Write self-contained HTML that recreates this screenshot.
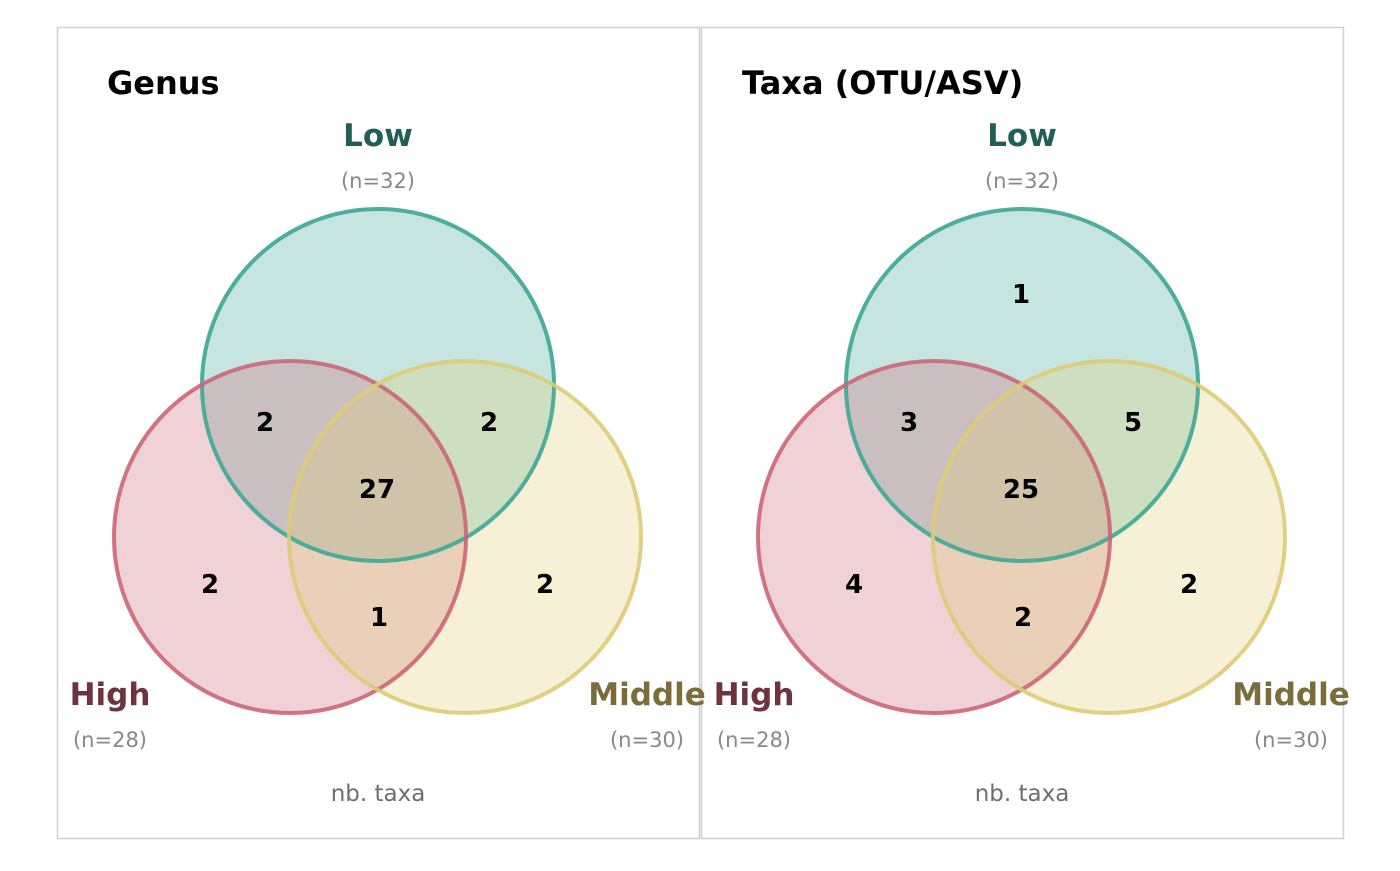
<!DOCTYPE html>
<html><head><meta charset="utf-8"><style>
body{margin:0;background:#fff}
svg text{font-family:"DejaVu Sans","Liberation Sans",sans-serif}
</style></head><body>
<svg width="1400" height="866" viewBox="0 0 1400 866" xmlns="http://www.w3.org/2000/svg">
<rect width="1400" height="866" fill="#fff"/>
<rect x="57.5" y="27.5" width="642" height="811" fill="none" stroke="#d0d0d0" stroke-width="1.5"/>
<rect x="701.5" y="27.5" width="642" height="811" fill="none" stroke="#d0d0d0" stroke-width="1.5"/>
<g id="p1">
<text x="107" y="94" font-size="32" font-weight="bold" fill="#000">Genus</text>
<circle cx="378" cy="385" r="176" fill="#44aa99" fill-opacity="0.3"/>
<circle cx="290" cy="537" r="176" fill="#cc6677" fill-opacity="0.3"/>
<circle cx="465" cy="537" r="176" fill="#ddcc77" fill-opacity="0.3"/>
<circle cx="378" cy="385" r="176" fill="none" stroke="#44aa99" stroke-width="4" stroke-opacity="0.95"/>
<circle cx="290" cy="537" r="176" fill="none" stroke="#cc6677" stroke-width="4" stroke-opacity="0.9"/>
<circle cx="465" cy="537" r="176" fill="none" stroke="#ddcc77" stroke-width="4" stroke-opacity="0.9"/>
<g font-size="26" font-weight="bold" text-anchor="middle" fill="#000">
<text x="265" y="431">2</text><text x="489" y="431">2</text><text x="377" y="498">27</text>
<text x="210" y="593">2</text><text x="545" y="593">2</text><text x="379" y="626">1</text>
</g>
<g text-anchor="middle">
<text x="378" y="146" font-size="31" font-weight="bold" fill="#225e55">Low</text>
<text x="378" y="188" font-size="21" fill="#888">(n=32)</text>
<text x="110" y="705" font-size="31" font-weight="bold" fill="#6e3340">High</text>
<text x="110" y="747" font-size="21" fill="#888">(n=28)</text>
<text x="647" y="705" font-size="31" font-weight="bold" fill="#7a6d3b">Middle</text>
<text x="647" y="747" font-size="21" fill="#888">(n=30)</text>
<text x="378" y="801" font-size="23" fill="#6e6e6e">nb. taxa</text>
</g>
</g>
<g transform="translate(644,0)">
<text x="98" y="94" font-size="32" font-weight="bold" fill="#000">Taxa (OTU/ASV)</text>
<circle cx="378" cy="385" r="176" fill="#44aa99" fill-opacity="0.3"/>
<circle cx="290" cy="537" r="176" fill="#cc6677" fill-opacity="0.3"/>
<circle cx="465" cy="537" r="176" fill="#ddcc77" fill-opacity="0.3"/>
<circle cx="378" cy="385" r="176" fill="none" stroke="#44aa99" stroke-width="4" stroke-opacity="0.95"/>
<circle cx="290" cy="537" r="176" fill="none" stroke="#cc6677" stroke-width="4" stroke-opacity="0.9"/>
<circle cx="465" cy="537" r="176" fill="none" stroke="#ddcc77" stroke-width="4" stroke-opacity="0.9"/>
<g font-size="26" font-weight="bold" text-anchor="middle" fill="#000">
<text x="377" y="303">1</text>
<text x="265" y="431">3</text><text x="489" y="431">5</text><text x="377" y="498">25</text>
<text x="210" y="593">4</text><text x="545" y="593">2</text><text x="379" y="626">2</text>
</g>
<g text-anchor="middle">
<text x="378" y="146" font-size="31" font-weight="bold" fill="#225e55">Low</text>
<text x="378" y="188" font-size="21" fill="#888">(n=32)</text>
<text x="110" y="705" font-size="31" font-weight="bold" fill="#6e3340">High</text>
<text x="110" y="747" font-size="21" fill="#888">(n=28)</text>
<text x="647" y="705" font-size="31" font-weight="bold" fill="#7a6d3b">Middle</text>
<text x="647" y="747" font-size="21" fill="#888">(n=30)</text>
<text x="378" y="801" font-size="23" fill="#6e6e6e">nb. taxa</text>
</g>
</g>
</svg>
</body></html>
